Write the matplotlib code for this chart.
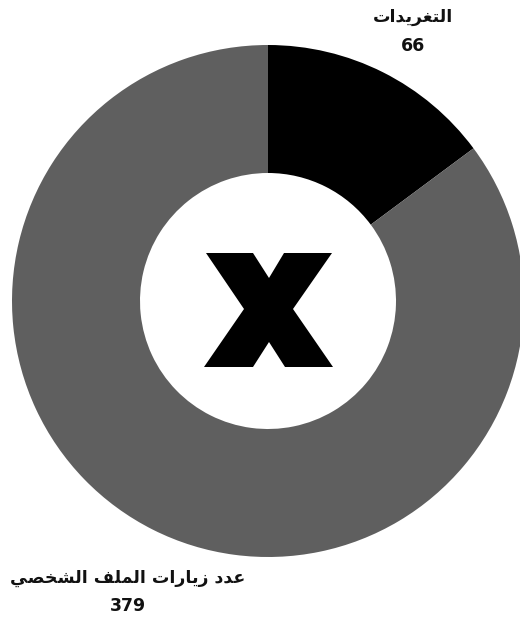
import matplotlib
matplotlib.use("Agg")
import matplotlib.pyplot as plt
from matplotlib.patches import Polygon

# Data
labels = ["عدد زيارات الملف الشخصي", "التغريدات"]
values = [379, 66]
colors = ["#5f5f5f", "#000000"]

# minimal Arabic shaping (matplotlib has no shaping): iso, fin, ini, med
FORMS = {
    "ا": ("\uFE8D", "\uFE8E", None, None),
    "د": ("\uFEA9", "\uFEAA", None, None),
    "ر": ("\uFEAD", "\uFEAE", None, None),
    "ز": ("\uFEAF", "\uFEB0", None, None),
    "ت": ("\uFE95", "\uFE96", "\uFE97", "\uFE98"),
    "غ": ("\uFECD", "\uFECE", "\uFECF", "\uFED0"),
    "ي": ("\uFEF1", "\uFEF2", "\uFEF3", "\uFEF4"),
    "ل": ("\uFEDD", "\uFEDE", "\uFEDF", "\uFEE0"),
    "ع": ("\uFEC9", "\uFECA", "\uFECB", "\uFECC"),
    "م": ("\uFEE1", "\uFEE2", "\uFEE3", "\uFEE4"),
    "ف": ("\uFED1", "\uFED2", "\uFED3", "\uFED4"),
    "ش": ("\uFEB5", "\uFEB6", "\uFEB7", "\uFEB8"),
    "خ": ("\uFEA5", "\uFEA6", "\uFEA7", "\uFEA8"),
    "ص": ("\uFEB9", "\uFEBA", "\uFEBB", "\uFEBC"),
}


def shape(text):
    out = []
    for i, ch in enumerate(text):
        if ch not in FORMS:
            out.append(ch)
            continue
        prev = text[i - 1] if i > 0 else ""
        nxt = text[i + 1] if i + 1 < len(text) else ""
        join_prev = prev in FORMS and FORMS[prev][2] is not None
        join_next = nxt in FORMS and FORMS[ch][2] is not None
        iso, fin, ini, med = FORMS[ch]
        if join_prev and join_next:
            out.append(med)
        elif join_prev:
            out.append(fin)
        elif join_next:
            out.append(ini)
        else:
            out.append(iso)
    return "".join(out)[::-1]


fig = plt.figure(figsize=(5.2, 6.24), dpi=100)
ax = fig.add_axes([0, 0, 1, 1])

# pie centre at (268, 301) px, outer radius 256 px
R = 256.0
ax.pie(values[::-1], colors=colors[::-1], startangle=90, counterclock=False,
       radius=1.0, wedgeprops=dict(width=0.5, linewidth=0))
ax.set_xlim(-268 / R, (520 - 268) / R)
ax.set_ylim(-(624 - 301) / R, 301 / R)
ax.set_aspect("auto")
ax.axis("off")


def px(x, y):
    # pixel position (from top-left) -> data coords
    return ((x - 268) / R, (301 - y) / R)


fnt = dict(family=["DejaVu Sans"], fontweight="bold", color="#111111",
           ha="center", va="center", fontsize=12.5)

ax.text(*px(413, 17), shape(labels[1]), **fnt)
ax.text(*px(413, 46), str(values[1]), **fnt)
ax.text(*px(128, 578), shape(labels[0]), **fnt)
ax.text(*px(128, 606), str(values[0]), **fnt)

# centre logo (heavy X)
logo = [(206, 253), (253, 253), (269, 278), (284, 253), (332, 253), (293, 309),
        (333, 367), (285, 367), (269, 342), (253, 367), (204, 367), (244, 309)]
ax.add_patch(Polygon([px(x, y) for x, y in logo], closed=True,
                     facecolor="black", edgecolor="none"))

fig.savefig("out.png", dpi=100, facecolor="white")
